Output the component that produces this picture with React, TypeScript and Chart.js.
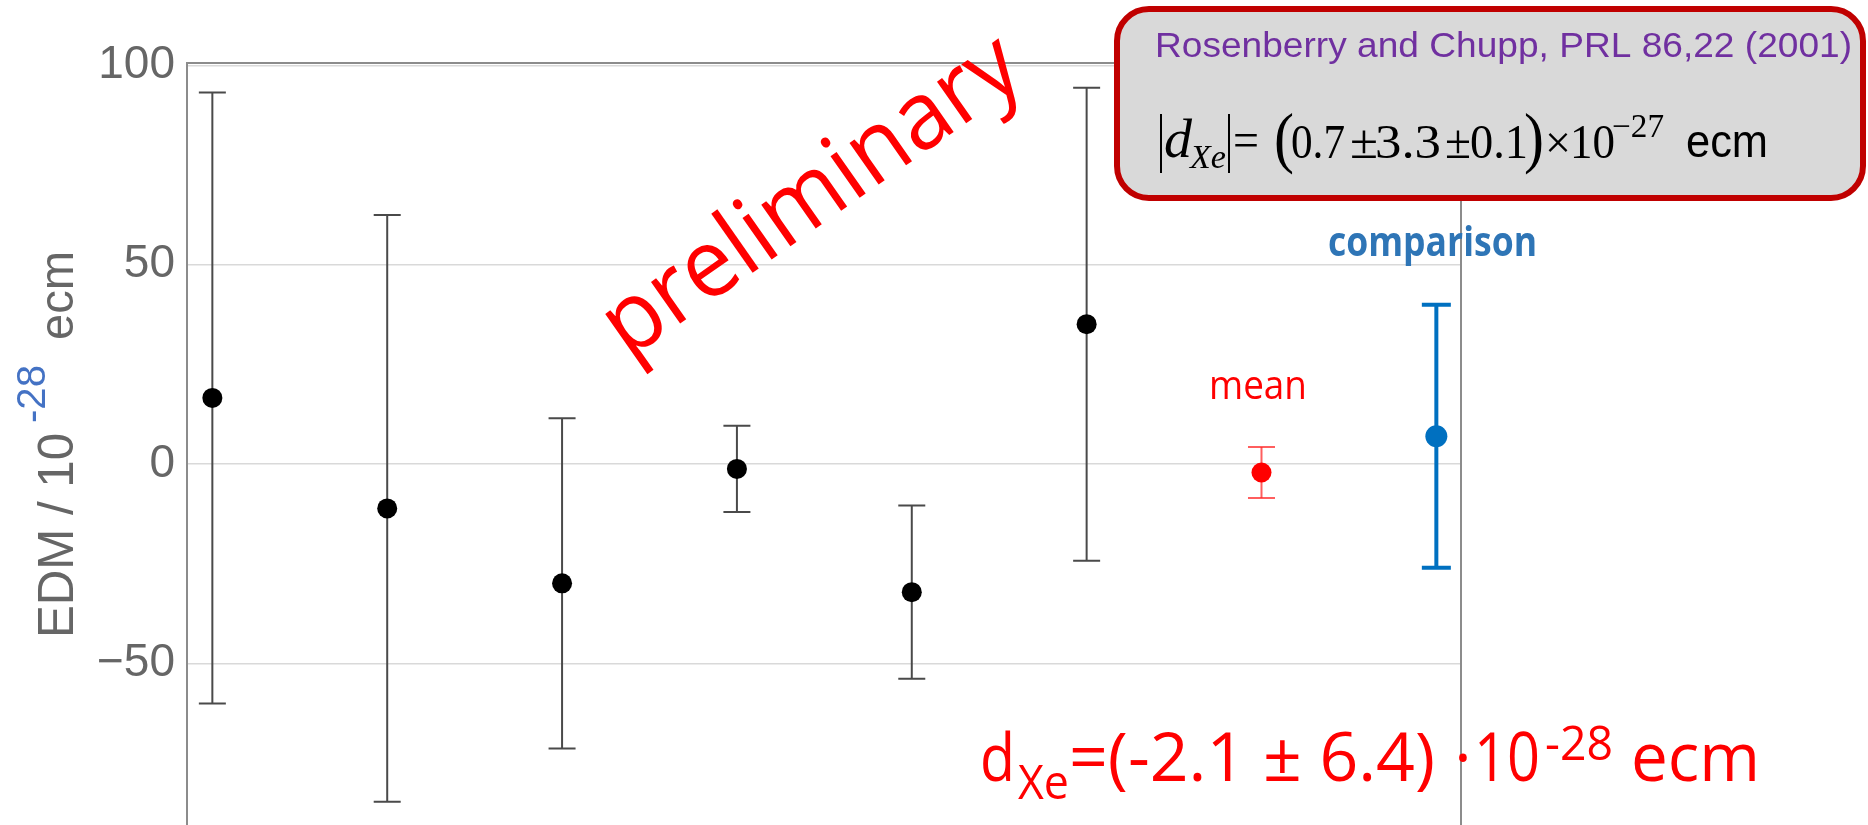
import React, { useEffect, useRef } from 'react';
import { Chart, registerables } from 'chart.js';

Chart.register(...registerables);

// Xe EDM per measurement run, in units of 1e-28 e·cm, with 1σ errors
const runIndex = [1, 2, 3, 4, 5, 6];
const runEdm = [16.6, -11.1, -29.9, -1.2, -32.1, 35.1];
const runSigma = [76.6, 73.6, 41.4, 10.8, 21.7, 59.3];

// weighted mean of the runs
const meanIndex = [7];
const meanEdm = [-2.1];
const meanSigma = [6.4];

// Rosenberry and Chupp (2001): (0.7 ± 3.3)e-27 e·cm
const refIndex = [8];
const refEdm = [7];
const refSigma = [33];

const yTickValues = [-50, 0, 50, 100];
const xRange = [0.855, 8.141];
const yRange = [-90.5, 100.6];

const SANS = '"Liberation Sans", Arial, sans-serif';
const SERIF = '"Liberation Serif", "Times New Roman", serif';
const OPEN = '"Open Sans", "Noto Sans", sans-serif';

type Ctx = CanvasRenderingContext2D;

// draw text starting at (x, y) and stretch/squeeze it horizontally to a given width
function fitText(ctx: Ctx, text: string, x: number, y: number, width: number, font: string, color: string) {
  ctx.save();
  ctx.font = font;
  ctx.fillStyle = color;
  ctx.textAlign = 'left';
  ctx.textBaseline = 'alphabetic';
  const w = ctx.measureText(text).width || 1;
  ctx.translate(x, y);
  ctx.scale(width / w, 1);
  ctx.fillText(text, 0, 0);
  ctx.restore();
}

function drawErrorBars(
  ctx: Ctx, xs: any, ys: any,
  pos: number[], val: number[], sig: number[],
  color: string, lw: number, capHalf: number, capLw: number
) {
  ctx.save();
  ctx.strokeStyle = color;
  ctx.lineCap = 'butt';
  pos.forEach((p, i) => {
    const px = xs.getPixelForValue(p);
    const top = ys.getPixelForValue(val[i] + sig[i]);
    const bot = ys.getPixelForValue(val[i] - sig[i]);
    ctx.lineWidth = lw;
    ctx.beginPath();
    ctx.moveTo(px, top);
    ctx.lineTo(px, bot);
    ctx.stroke();
    ctx.lineWidth = capLw;
    ctx.beginPath();
    ctx.moveTo(px - capHalf, top);
    ctx.lineTo(px + capHalf, top);
    ctx.moveTo(px - capHalf, bot);
    ctx.lineTo(px + capHalf, bot);
    ctx.stroke();
  });
  ctx.restore();
}

function roundRectPath(ctx: Ctx, x: number, y: number, w: number, h: number, r: number) {
  ctx.beginPath();
  ctx.moveTo(x + r, y);
  ctx.lineTo(x + w - r, y);
  ctx.arcTo(x + w, y, x + w, y + r, r);
  ctx.lineTo(x + w, y + h - r);
  ctx.arcTo(x + w, y + h, x + w - r, y + h, r);
  ctx.lineTo(x + r, y + h);
  ctx.arcTo(x, y + h, x, y + h - r, r);
  ctx.lineTo(x, y + r);
  ctx.arcTo(x, y, x + r, y, r);
  ctx.closePath();
}

const edmOverlay = {
  id: 'edmOverlay',
  beforeDatasetsDraw(chart: any) {
    const { ctx, chartArea: a, scales } = chart;
    const xs = scales.x;
    const ys = scales.y;

    // plot frame: left, top and right edges
    ctx.save();
    ctx.strokeStyle = '#8c8c8c';
    ctx.lineWidth = 2;
    ctx.beginPath();
    ctx.moveTo(a.left, a.bottom + 4);
    ctx.lineTo(a.left, a.top);
    ctx.lineTo(a.right, a.top);
    ctx.lineTo(a.right, a.bottom + 4);
    ctx.stroke();
    ctx.restore();

    drawErrorBars(ctx, xs, ys, runIndex, runEdm, runSigma, '#4a4a4a', 2, 13.5, 2);
    drawErrorBars(ctx, xs, ys, meanIndex, meanEdm, meanSigma, 'rgba(255,40,40,0.75)', 2, 13.5, 2);
    drawErrorBars(ctx, xs, ys, refIndex, refEdm, refSigma, '#0070C0', 4, 14.5, 4);
  },
  afterDraw(chart: any) {
    const { ctx } = chart;

    // y-axis title: EDM / 10^-28 ecm
    ctx.save();
    ctx.translate(73, 638);
    ctx.rotate(-Math.PI / 2);
    fitText(ctx, 'EDM / 10', 0, 0, 205, `50px ${SANS}`, '#666666');
    fitText(ctx, '-28', 215, -28, 58, `41px ${SANS}`, '#4472C4');
    fitText(ctx, 'ecm', 298, 0, 89, `49px ${SANS}`, '#666666');
    ctx.restore();

    // watermark
    ctx.save();
    ctx.translate(628, 360);
    ctx.rotate((-35 * Math.PI) / 180);
    fitText(ctx, 'preliminary', 0, 0, 488, `95px ${OPEN}`, '#FF0000');
    ctx.restore();

    // point labels
    fitText(ctx, 'mean', 1209, 399, 98, `41px ${OPEN}`, '#FF0000');
    fitText(ctx, 'comparison', 1328, 256, 209, `bold 42px ${OPEN}`, '#2E75B6');

    // result formula
    const red = '#FF0000';
    fitText(ctx, 'd', 980, 781, 35, `66px ${OPEN}`, red);
    fitText(ctx, 'Xe', 1018, 799, 51, `47px ${OPEN}`, red);
    fitText(ctx, '=(-2.1 \u00B1 6.4)', 1069, 781, 366, `67px ${OPEN}`, red);
    ctx.save();
    ctx.font = `66px ${OPEN}`;
    ctx.fillStyle = red;
    ctx.textAlign = 'center';
    ctx.fillText('\u00B7', 1463, 781);
    ctx.restore();
    fitText(ctx, '10', 1474, 781, 66, `67px ${OPEN}`, red);
    fitText(ctx, '-28', 1545, 760, 68, `47px ${OPEN}`, red);
    fitText(ctx, 'ecm', 1631, 781, 129, `67px ${OPEN}`, red);

    // reference box
    ctx.save();
    roundRectPath(ctx, 1117, 9, 746, 189, 32);
    ctx.fillStyle = '#D9D9D9';
    ctx.fill();
    ctx.lineWidth = 6;
    ctx.strokeStyle = '#C00000';
    ctx.stroke();
    ctx.restore();

    fitText(ctx, 'Rosenberry and Chupp, PRL 86,22 (2001)', 1155, 57, 697, `35px ${SANS}`, '#7030A0');

    const k = '#000000';
    ctx.save();
    ctx.strokeStyle = k;
    ctx.lineWidth = 2;
    ctx.beginPath();
    ctx.moveTo(1161, 114);
    ctx.lineTo(1161, 173);
    ctx.moveTo(1229, 114);
    ctx.lineTo(1229, 173);
    ctx.stroke();
    ctx.restore();
    fitText(ctx, 'd', 1164, 157, 28, `italic 54px ${SERIF}`, k);
    fitText(ctx, 'Xe', 1190, 168, 36, `italic 34px ${SERIF}`, k);
    fitText(ctx, '=', 1233, 157, 26, `50px ${SERIF}`, k);
    fitText(ctx, '(', 1274, 160, 20, `68px ${SERIF}`, k);
    fitText(ctx, '0.7', 1291, 158, 54, `49px ${SERIF}`, k);
    fitText(ctx, '\u00B1', 1350, 158, 28, `48px ${SERIF}`, k);
    fitText(ctx, '3.3', 1375, 158, 66, `49px ${SERIF}`, k);
    fitText(ctx, '\u00B1', 1445, 158, 26, `48px ${SERIF}`, k);
    fitText(ctx, '0.1', 1470, 158, 58, `49px ${SERIF}`, k);
    fitText(ctx, ')', 1524, 160, 20, `68px ${SERIF}`, k);
    fitText(ctx, '\u00D7', 1545, 158, 26, `46px ${SERIF}`, k);
    fitText(ctx, '10', 1570, 158, 45, `49px ${SERIF}`, k);
    fitText(ctx, '\u221227', 1612, 137, 52, `33px ${SERIF}`, k);
    fitText(ctx, 'ecm', 1686, 157, 82, `47px ${SANS}`, k);
  },
};

export default function App() {
  const canvasRef = useRef<HTMLCanvasElement | null>(null);

  useEffect(() => {
    const canvas = canvasRef.current;
    if (!canvas) return;

    const runPoints = runIndex.map((x, i) => ({ x, y: runEdm[i] }));
    const meanPoints = meanIndex.map((x, i) => ({ x, y: meanEdm[i] }));
    const refPoints = refIndex.map((x, i) => ({ x, y: refEdm[i] }));

    const chart = new Chart(canvas, {
      type: 'scatter',
      data: {
        datasets: [
          {
            label: 'runs',
            data: runPoints,
            pointRadius: 10,
            pointBackgroundColor: '#000000',
            pointBorderWidth: 0,
            borderColor: '#000000',
          },
          {
            label: 'mean',
            data: meanPoints,
            pointRadius: 10,
            pointBackgroundColor: '#FF0000',
            pointBorderWidth: 0,
            borderColor: '#FF0000',
          },
          {
            label: 'comparison',
            data: refPoints,
            pointRadius: 11,
            pointBackgroundColor: '#0070C0',
            pointBorderWidth: 0,
            borderColor: '#0070C0',
          },
        ],
      },
      options: {
        animation: false,
        responsive: false,
        maintainAspectRatio: false,
        events: [],
        layout: {
          autoPadding: false,
          padding: { top: 63, right: 407, bottom: 0, left: 0 },
        },
        plugins: {
          legend: { display: false },
          tooltip: { enabled: false },
        },
        scales: {
          x: {
            type: 'linear',
            display: false,
            min: xRange[0],
            max: xRange[1],
          },
          y: {
            type: 'linear',
            min: yRange[0],
            max: yRange[1],
            afterBuildTicks: (scale: any) => {
              scale.ticks = yTickValues.map((v) => ({ value: v }));
            },
            afterFit: (scale: any) => {
              scale.width = 187;
              scale.paddingTop = 0;
              scale.paddingBottom = 0;
            },
            border: { display: false },
            grid: {
              color: '#d9d9d9',
              lineWidth: 1.5,
              drawTicks: false,
            },
            ticks: {
              padding: 12,
              color: '#666666',
              font: { family: SANS, size: 46 },
              callback: (v: any) => (Number(v) < 0 ? '\u2212' + Math.abs(Number(v)) : String(v)),
            },
          },
        },
      },
      plugins: [edmOverlay],
    });

    return () => chart.destroy();
  }, []);

  return (
    <div style={{ position: 'fixed', left: 0, top: 0, width: 1868, height: 825, background: '#ffffff' }}>
      <canvas ref={canvasRef} width={1868} height={825} style={{ display: 'block' }} />
    </div>
  );
}
